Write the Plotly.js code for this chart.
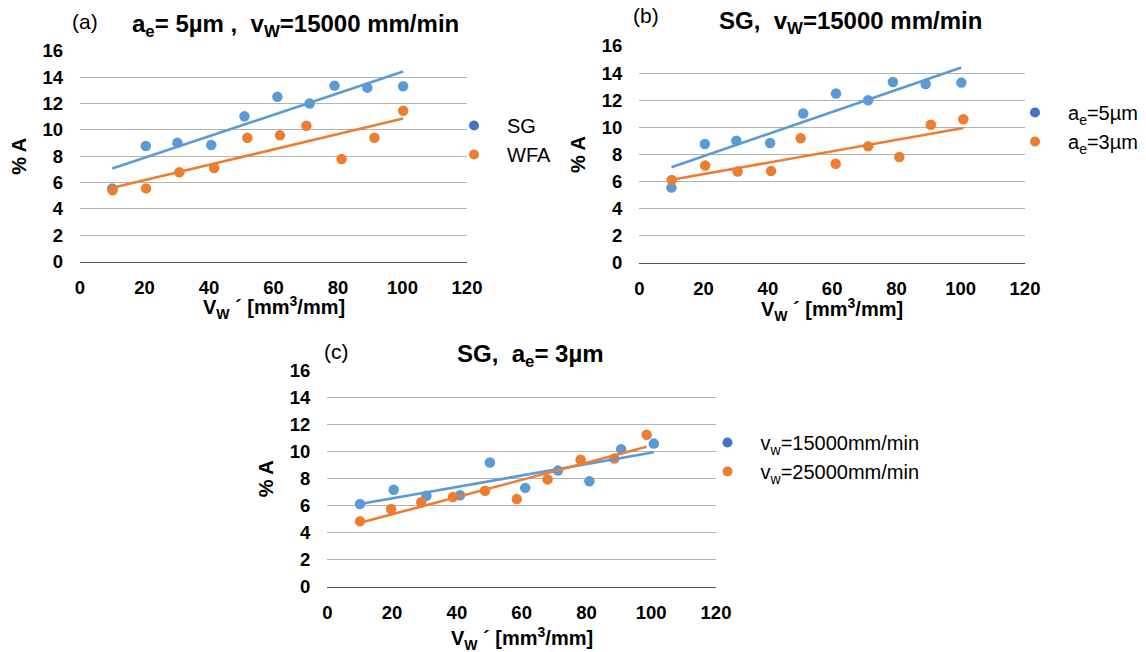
<!DOCTYPE html>
<html>
<head>
<meta charset="utf-8">
<script src="https://cdn.plot.ly/plotly-3.0.1.min.js"></script>
<style>html,body{margin:0;padding:0;background:#fff;}#chart{width:1146px;height:652px;}</style>
</head>
<body>
<div id="chart"></div>
<script>
// ---- data ----
// SG, ae = 5 µm, vw = 15000 mm/min  (panel a "SG", panel b "ae=5µm")
const x_sg_ae5 = [10.0, 20.4, 30.2, 40.7, 51.0, 61.2, 71.2, 78.9, 89.1, 100.2];
const y_sg_ae5 = [5.56, 8.77, 9.02, 8.85, 11.02, 12.50, 12.00, 13.35, 13.20, 13.30];
// WFA, ae = 5 µm, vw = 15000 mm/min (panel a)
const x_wfa_ae5 = [10.1, 20.5, 30.8, 41.6, 51.9, 62.0, 70.2, 81.1, 91.3, 100.2];
const y_wfa_ae5 = [5.41, 5.56, 6.78, 7.10, 9.40, 9.58, 10.31, 7.79, 9.40, 11.45];
// SG, ae = 3 µm, vw = 15000 mm/min (panel b "ae=3µm", panel c "vw=15000")
const x_sg_ae3_v15 = [10.1, 20.5, 30.6, 41.0, 50.2, 61.1, 71.2, 80.9, 90.7, 100.8];
const y_sg_ae3_v15 = [6.12, 7.18, 6.74, 6.78, 9.20, 7.32, 8.60, 7.81, 10.19, 10.60];
// SG, ae = 3 µm, vw = 25000 mm/min (panel c)
const x_sg_ae3_v25 = [10.1, 19.7, 29.0, 38.8, 48.7, 58.5, 68.0, 78.2, 88.6, 98.6];
const y_sg_ae3_v25 = [4.84, 5.75, 6.25, 6.64, 7.11, 6.49, 7.95, 9.40, 9.50, 11.26];

const xTickVals = [0, 20, 40, 60, 80, 100, 120];
const yTickVals = [0, 2, 4, 6, 8, 10, 12, 14, 16];

const panelLetters = ["(a)", "(b)", "(c)"];
const panelTitles = [
  "a<sub>e</sub>= 5µm ,\u00a0 v<sub>W</sub>=15000 mm/min",
  "SG,\u00a0 v<sub>W</sub>=15000 mm/min",
  "SG,\u00a0 a<sub>e</sub>= 3µm"
];
const legendNames = [
  ["SG", "WFA"],
  ["a<sub>e</sub>=5µm", "a<sub>e</sub>=3µm"],
  ["v<sub>w</sub>=15000mm/min", "v<sub>w</sub>=25000mm/min"]
];
const xTitle = "V<sub>W</sub> ´ [mm<sup>3</sup>/mm]";
const yTitle = "% A";

// ---- styling ----
const FONT = "Liberation Sans, Arial, Helvetica, sans-serif";
const BLUE = "#5B9BD5", ORANGE = "#ED7D31", LEG_BLUE = "#4472C4";
const W = 1146, H = 652;

function fit(xs, ys) {
  const n = xs.length;
  const mx = xs.reduce((a, b) => a + b, 0) / n;
  const my = ys.reduce((a, b) => a + b, 0) / n;
  let sxy = 0, sxx = 0;
  for (let i = 0; i < n; i++) { sxy += (xs[i] - mx) * (ys[i] - my); sxx += (xs[i] - mx) ** 2; }
  const b = sxy / sxx, a = my - b * mx;
  const x0 = Math.min(...xs), x1 = Math.max(...xs);
  return { x: [x0, x1], y: [a + b * x0, a + b * x1] };
}

const series = [
  [[x_sg_ae5, y_sg_ae5], [x_wfa_ae5, y_wfa_ae5]],
  [[x_sg_ae5, y_sg_ae5], [x_sg_ae3_v15, y_sg_ae3_v15]],
  [[x_sg_ae3_v15, y_sg_ae3_v15], [x_sg_ae3_v25, y_sg_ae3_v25]]
];
const colors = [BLUE, ORANGE];
const legColors = [LEG_BLUE, ORANGE];

// panel geometry in pixels: [left, right, top, bottom]
const boxes = [
  [80, 467, 50.7, 261.7],
  [639.3, 1025, 46, 263],
  [327.3, 716, 370.7, 586.7]
];

const traces = [];
const layout = {
  width: W, height: H,
  margin: { l: 0, r: 0, t: 0, b: 0 },
  paper_bgcolor: "#fff", plot_bgcolor: "#fff",
  font: { family: FONT, color: "#000" },
  showlegend: true,
  annotations: []
};

const legendPos = [
  { x: 474, top: 106 },
  { x: 1035, top: 93 },
  { x: 727.5, top: 423 }
];
const xTitleY = [308, 309, 638];
const titlePos = [
  { lx: 85, ly: 21, tx: 130, ty: 25 },
  { lx: 646, ly: 16, tx: 717, ty: 22 },
  { lx: 336, ly: 351, tx: 455, ty: 355 }
];

for (let p = 0; p < 3; p++) {
  const sfx = p === 0 ? "" : String(p + 1);
  const xa = "x" + sfx, ya = "y" + sfx;
  const legKey = p === 0 ? "legend" : "legend" + (p + 1);
  const [l, r, t, b] = boxes[p];

  // points
  for (let s = 0; s < 2; s++) {
    const [xs, ys] = series[p][s];
    traces.push({
      type: "scatter", mode: "markers", x: xs, y: ys, xaxis: xa, yaxis: ya,
      marker: { color: colors[s], size: 10.5 }, showlegend: false, hoverinfo: "x+y"
    });
  }
  // trendlines
  for (let s = 0; s < 2; s++) {
    const [xs, ys] = series[p][s];
    const f = fit(xs, ys);
    traces.push({
      type: "scatter", mode: "lines", x: f.x, y: f.y, xaxis: xa, yaxis: ya,
      line: { color: colors[s], width: 2.6 }, showlegend: false, hoverinfo: "skip"
    });
  }
  // legend entries
  for (let s = 0; s < 2; s++) {
    traces.push({
      type: "scatter", mode: "markers", x: [null], y: [null], xaxis: xa, yaxis: ya,
      name: legendNames[p][s], legend: legKey, legendgroup: "g" + p + s,
      marker: { color: legColors[s], size: 10 }
    });
  }

  layout["xaxis" + sfx] = {
    domain: [l / W, r / W], anchor: ya, range: [0, 120], tickvals: xTickVals,
    showgrid: false, zeroline: false, showline: true, linecolor: "#595959", linewidth: 1,
    ticks: "", ticklabelstandoff: 9,
    tickfont: { family: FONT, size: 18.5, weight: "bold", color: "#000" },
    fixedrange: true
  };
  layout["yaxis" + sfx] = {
    domain: [1 - b / H, 1 - t / H], anchor: xa, range: [0, 16], tickvals: yTickVals,
    showgrid: true, gridcolor: "#b3b3b3", gridwidth: 1, zeroline: false, showline: false,
    ticks: "", ticklabelstandoff: 16,
    tickfont: { family: FONT, size: 18.5, weight: "bold", color: "#000" },
    title: { text: yTitle, standoff: 10, font: { family: FONT, size: 20, weight: "bold", color: "#000" } },
    fixedrange: true
  };
  layout[legKey] = {
    x: (legendPos[p].x - 33) / W, xanchor: "left",
    y: 1 - legendPos[p].top / H, yanchor: "top",
    bgcolor: "rgba(0,0,0,0)", borderwidth: 0, tracegroupgap: 0,
    itemwidth: 56,
    font: { family: FONT, size: 20, color: "#000" }
  };

  // x-axis title
  layout.annotations.push({
    xref: "paper", yref: "paper", x: ((l + r) / 2) / W, y: 1 - xTitleY[p] / H,
    xanchor: "center", yanchor: "middle", showarrow: false, text: xTitle,
    font: { family: FONT, size: 20, weight: "bold", color: "#000" }
  });

  const tp = titlePos[p];
  layout.annotations.push({
    xref: "paper", yref: "paper", x: tp.lx / W, y: 1 - tp.ly / H,
    xanchor: "center", yanchor: "middle", showarrow: false, text: panelLetters[p],
    font: { family: FONT, size: 21, color: "#000" }
  });
  layout.annotations.push({
    xref: "paper", yref: "paper", x: tp.tx / W, y: 1 - tp.ty / H,
    xanchor: "left", yanchor: "middle", showarrow: false, text: panelTitles[p],
    font: { family: FONT, size: 24, weight: "bold", color: "#000" }
  });
}

Plotly.newPlot("chart", traces, layout, { displayModeBar: false, staticPlot: false });
</script>
</body>
</html>
